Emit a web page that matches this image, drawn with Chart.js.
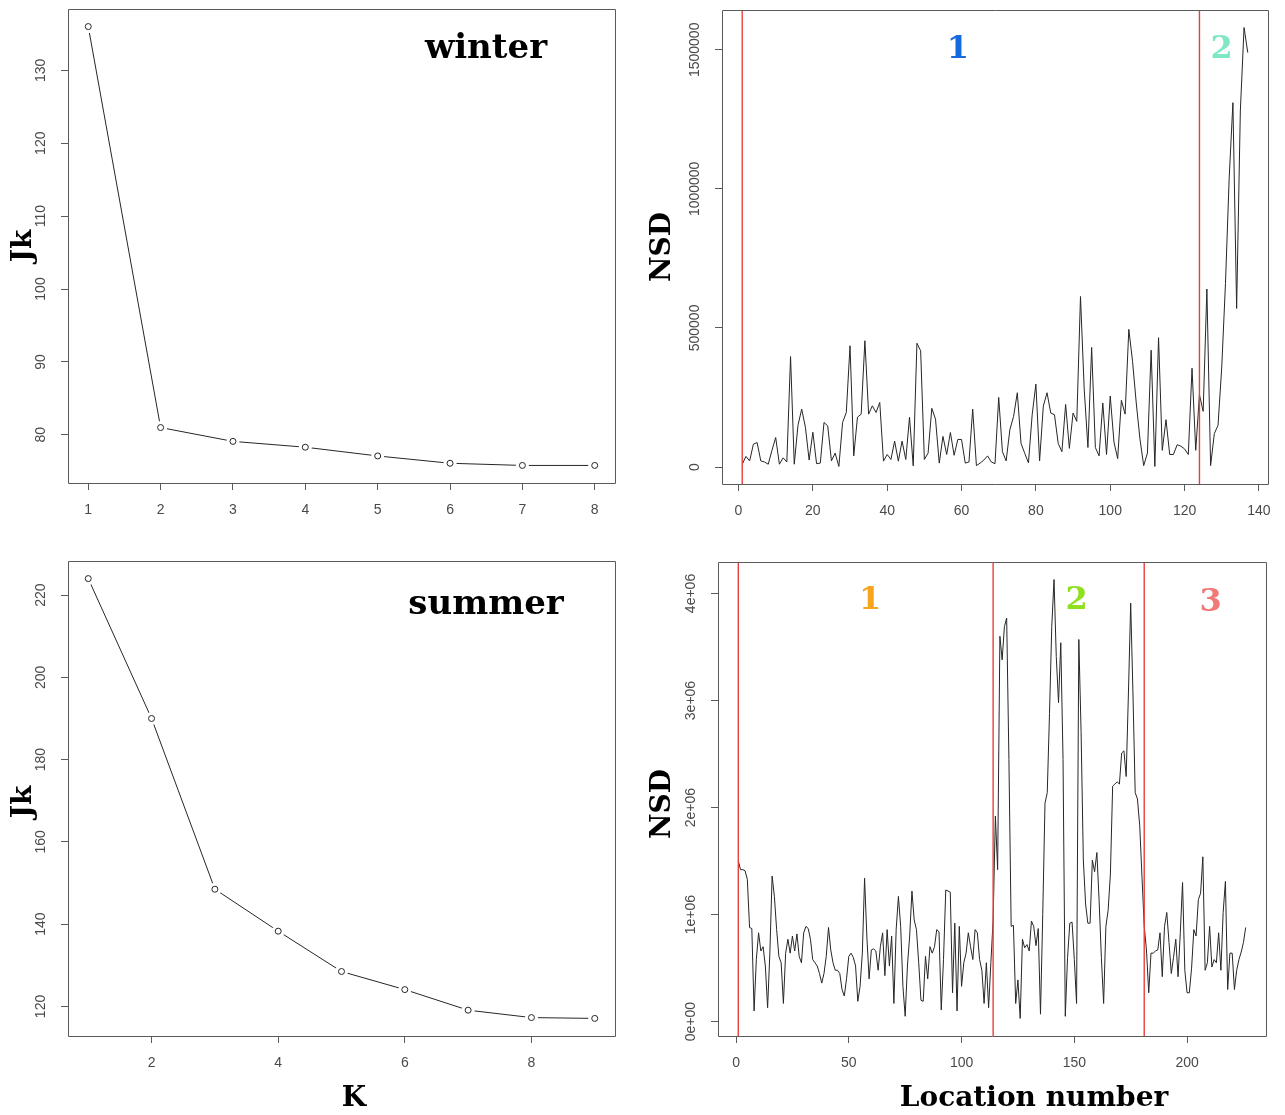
<!DOCTYPE html>
<html>
<head>
<meta charset="utf-8">
<title>Jk and NSD by season</title>
<script src="https://cdn.jsdelivr.net/npm/chart.js@4.4.1/dist/chart.umd.min.js"></script>
<style>
  html, body { margin: 0; padding: 0; background: #fff; }
  #page { position: relative; width: 1285px; height: 1115px; overflow: hidden; }
  #page canvas { position: absolute; }
</style>
</head>
<body>
<div id="page">
  <canvas id="winterJk" width="642" height="550" style="left:0;top:0"></canvas>
  <canvas id="winterNsd" width="643" height="550" style="left:642px;top:0"></canvas>
  <canvas id="summerJk" width="642" height="565" style="left:0;top:550px"></canvas>
  <canvas id="summerNsd" width="643" height="565" style="left:642px;top:550px"></canvas>
</div>
<script>
// --- data ---
const winterK = [1, 2, 3, 4, 5, 6, 7, 8];
const winterJk = [136.0, 81.0, 79.1, 78.3, 77.1, 76.1, 75.8, 75.8];

const summerK = [1, 2, 3, 4, 5, 6, 7, 8, 9];
const summerJk = [224.0, 190.0, 148.5, 138.3, 128.5, 124.1, 119.1, 117.3, 117.1];

// NSD per location, winter (locations 1..137)
const winterNsd = [
  10000, 38000, 22000, 82000, 88000, 22000, 18000, 10000, 60000, 106000,
  10000, 33000, 18000, 397000, 10000, 150000, 208000, 143000, 25000, 125000,
  12000, 14000, 160000, 148000, 22000, 50000, 2000, 160000, 196000, 436000,
  40000, 179000, 190000, 454000, 190000, 220000, 196000, 232000, 21000, 45000,
  27000, 93000, 21000, 93000, 27000, 179000, 4000, 445000, 418000, 27000,
  50000, 211000, 172000, 14000, 110000, 45000, 124000, 42000, 99000, 99000,
  14000, 18000, 208000, 5000, 14000, 25000, 40000, 18000, 12000, 250000,
  55000, 22000, 134000, 182000, 267000, 85000, 49000, 15000, 188000, 298000,
  22000, 219000, 267000, 194000, 188000, 85000, 55000, 225000, 67000, 194000,
  164000, 613000, 280000, 70000, 430000, 70000, 40000, 230000, 45000, 255000,
  90000, 30000, 240000, 190000, 495000, 380000, 230000, 100000, 5000, 50000,
  420000, 2000, 465000, 60000, 170000, 45000, 45000, 80000, 75000, 65000,
  45000, 355000, 60000, 260000, 200000, 640000, 5000, 120000, 150000, 360000,
  660000, 1040000, 1310000, 570000, 1280000, 1580000, 1490000
];

// NSD per location, summer, in units of 1e+06 (locations 1..226)
const summerNsdMillions = [
  1.50, 1.42, 1.42, 1.41, 1.33, 0.88, 0.87, 0.10, 0.58, 0.83,
  0.66, 0.70, 0.52, 0.13, 0.64, 1.36, 1.17, 0.86, 0.61, 0.55,
  0.17, 0.64, 0.77, 0.64, 0.80, 0.66, 0.82, 0.61, 0.55, 0.83,
  0.89, 0.87, 0.77, 0.58, 0.55, 0.52, 0.45, 0.36, 0.45, 0.61,
  0.88, 0.67, 0.55, 0.48, 0.48, 0.45, 0.30, 0.24, 0.40, 0.61,
  0.64, 0.60, 0.52, 0.19, 0.33, 0.64, 1.34, 0.80, 0.40, 0.67,
  0.68, 0.66, 0.48, 0.70, 0.83, 0.43, 0.86, 0.52, 0.80, 0.17,
  0.86, 1.17, 0.89, 0.33, 0.05, 0.52, 0.80, 1.22, 0.95, 0.86,
  0.55, 0.20, 0.19, 0.61, 0.40, 0.70, 0.64, 0.70, 0.86, 0.84,
  0.11, 0.58, 1.23, 1.22, 1.21, 0.27, 0.92, 0.10, 0.89, 0.33,
  0.55, 0.64, 0.83, 0.70, 0.58, 0.86, 0.83, 0.58, 0.48, 0.17,
  0.55, 0.13, 0.55, 0.95, 1.92, 1.42, 3.60, 3.38, 3.69, 3.77,
  2.45, 0.89, 0.90, 0.17, 0.39, 0.03, 0.77, 0.69, 0.72, 0.66,
  0.94, 0.89, 0.71, 0.87, 0.07, 1.00, 2.04, 2.14, 2.88, 3.69,
  4.13, 3.41, 2.98, 3.54, 2.45, 0.05, 0.60, 0.92, 0.93, 0.58,
  0.17, 3.57, 2.71, 1.51, 1.10, 0.92, 0.92, 1.51, 1.40, 1.58,
  1.13, 0.60, 0.17, 0.89, 1.04, 1.38, 2.20, 2.22, 2.24, 2.22,
  2.51, 2.53, 2.29, 3.07, 3.91, 3.07, 2.14, 2.08, 1.83, 1.36,
  0.89, 0.67, 0.27, 0.64, 0.64, 0.66, 0.67, 0.83, 0.42, 0.89,
  1.02, 0.74, 0.45, 0.60, 0.77, 0.42, 0.83, 1.30, 0.48, 0.27,
  0.27, 0.50, 0.86, 0.80, 1.14, 1.20, 1.54, 0.48, 0.55, 0.89,
  0.51, 0.58, 0.55, 0.83, 0.48, 1.02, 1.31, 0.30, 0.64, 0.64,
  0.30, 0.48, 0.58, 0.65, 0.74, 0.88
];

// segment boundaries (location numbers of the red lines)
const winterBreaks = [1, 124];
const summerBreaks = [1, 114, 181];

// segment labels
const winterSegments = ['1', '2'];
const winterSegmentColors = ['#1769e0', '#7ee8c6'];
const summerSegments = ['1', '2', '3'];
const summerSegmentColors = ['#f7a51c', '#8fe01e', '#f07a78'];

// tick labels
const winterKTicks = [1, 2, 3, 4, 5, 6, 7, 8];
const winterJkTicks = [80, 90, 100, 110, 120, 130];
const summerKTicks = [2, 4, 6, 8];
const summerJkTicks = [120, 140, 160, 180, 200, 220];
const winterLocTicks = [0, 20, 40, 60, 80, 100, 120, 140];
const winterNsdTicks = [0, 500000, 1000000, 1500000];
const summerLocTicks = [0, 50, 100, 150, 200];
const summerNsdTicks = [0, 1, 2, 3, 4];

// --- styling ---
const SANS = "'Liberation Sans', Arial, sans-serif";
const SERIF = "'DejaVu Serif', Georgia, serif";
const INK = '#262626';
const FRAME = '#5a5a5a';
const TICK_TEXT = '#4a4a4a';
const BREAK_RED = 'rgb(232, 64, 60)';

// R pads the data range by 4% on each side
function rRange(values) {
    const lo = Math.min(...values);
    const hi = Math.max(...values);
    const pad = (hi - lo) * 0.04;
    return [lo - pad, hi + pad];
}

/**
 * Draws the R-like parts Chart.js has no option for:
 * the full frame, the red break lines, rotated y tick labels and free text.
 */
const rStyle = {
    id: 'rStyle',
    afterDraw(chart, args, opts) {
        const { ctx, chartArea: a, scales: { x, y } } = chart;
        ctx.save();

        ctx.setLineDash([]);
        ctx.globalAlpha = 1;
        ctx.globalCompositeOperation = 'source-over';
        (opts.breaks || []).forEach((b) => {
            const px = x.getPixelForValue(b);
            ctx.strokeStyle = BREAK_RED;
            ctx.lineWidth = 1.4;
            ctx.beginPath();
            ctx.moveTo(px, Math.round(a.top));
            ctx.lineTo(px, Math.round(a.bottom));
            ctx.stroke();
        });

        ctx.strokeStyle = FRAME;
        ctx.lineWidth = 1;
        ctx.beginPath();
        ctx.rect(Math.round(a.left) + 0.5, Math.round(a.top) + 0.5,
            Math.round(a.right - a.left), Math.round(a.bottom - a.top));
        ctx.stroke();

        ctx.fillStyle = TICK_TEXT;
        ctx.font = `14px ${SANS}`;
        ctx.textAlign = 'center';
        ctx.textBaseline = 'middle';
        (opts.yTicks || []).forEach((v) => {
            ctx.save();
            ctx.translate(a.left - 27, y.getPixelForValue(v));
            ctx.rotate(-Math.PI / 2);
            ctx.fillText(opts.yFormat(v), 0, 0);
            ctx.restore();
        });

        (opts.texts || []).forEach((t) => {
            const px = t.atValue ? x.getPixelForValue(t.x) : t.x;
            const py = t.atValue ? y.getPixelForValue(t.y) : t.y;
            ctx.save();
            ctx.fillStyle = t.color || '#000';
            ctx.font = t.font;
            ctx.textAlign = 'center';
            ctx.textBaseline = 'middle';
            ctx.translate(px, py);
            if (t.vertical) {
                ctx.rotate(-Math.PI / 2);
            }
            ctx.fillText(t.text, 0, 0);
            ctx.restore();
        });

        ctx.restore();
    }
};

function makePanel(id, cfg) {
    const canvas = document.getElementById(id);
    const cw = canvas.width;
    const ch = canvas.height;
    const [bl, bt, br, bb] = cfg.box;

    const xr = rRange(cfg.xValues);
    const yr = rRange(cfg.yValues);

    const axisGrid = {
        display: true,
        drawOnChartArea: false,
        drawTicks: true,
        tickLength: 7,
        color: FRAME,
        tickColor: FRAME,
        lineWidth: 1
    };

    return new Chart(canvas.getContext('2d'), {
        type: 'line',
        data: { datasets: cfg.datasets },
        options: {
            responsive: false,
            animation: false,
            devicePixelRatio: 1,
            events: [],
            layout: { padding: { top: bt, right: cw - br, left: 0, bottom: 0 } },
            plugins: {
                legend: { display: false },
                tooltip: { enabled: false },
                rStyle: {
                    breaks: cfg.breaks,
                    yTicks: cfg.yTicks,
                    yFormat: cfg.yFormat,
                    texts: cfg.texts
                }
            },
            scales: {
                x: {
                    type: 'linear',
                    min: xr[0],
                    max: xr[1],
                    afterBuildTicks: (s) => { s.ticks = cfg.xTicks.map((v) => ({ value: v })); },
                    afterFit: (s) => { s.height = ch - bb; },
                    grid: axisGrid,
                    border: { display: false },
                    ticks: {
                        autoSkip: false,
                        maxRotation: 0,
                        padding: 12,
                        color: TICK_TEXT,
                        font: { family: SANS, size: 14 },
                        callback: (v) => String(v)
                    }
                },
                y: {
                    type: 'linear',
                    min: yr[0],
                    max: yr[1],
                    afterBuildTicks: (s) => { s.ticks = cfg.yTicks.map((v) => ({ value: v })); },
                    afterFit: (s) => { s.width = bl; },
                    grid: axisGrid,
                    border: { display: false },
                    ticks: { display: false }
                }
            }
        },
        plugins: [rStyle]
    });
}

// elbow plot: open circles with a white gap round them, like R type = "b"
function elbowDatasets(ks, jk) {
    const pts = ks.map((k, i) => ({ x: k, y: jk[i] }));
    return [
        { data: pts, showLine: false, pointRadius: 3, pointBorderWidth: 1,
          pointBorderColor: INK, pointBackgroundColor: '#fff' },
        { data: pts, showLine: false, pointRadius: 6.5, pointBorderWidth: 0,
          pointBackgroundColor: '#fff' },
        { data: pts, borderColor: INK, borderWidth: 1, pointRadius: 0, tension: 0 }
    ];
}

function nsdDataset(values) {
    return [{
        data: values.map((v, i) => ({ x: i + 1, y: v })),
        borderColor: INK,
        borderWidth: 1,
        pointRadius: 0,
        tension: 0
    }];
}

const axisTitleFont = `bold 28px ${SERIF}`;
const seasonFont = `bold 34px ${SERIF}`;
const segmentFont = `bold 32px ${SERIF}`;

makePanel('winterJk', {
    box: [68, 9, 615, 483],
    xValues: winterK,
    yValues: winterJk,
    xTicks: winterKTicks,
    yTicks: winterJkTicks,
    yFormat: (v) => String(v),
    datasets: elbowDatasets(winterK, winterJk),
    texts: [
        { text: 'winter', x: 486, y: 49, font: seasonFont },
        { text: 'Jk', x: 24, y: 246, font: axisTitleFont, vertical: true }
    ]
});

makePanel('winterNsd', {
    box: [80, 10, 626, 484],
    xValues: winterNsd.map((v, i) => i + 1),
    yValues: winterNsd,
    xTicks: winterLocTicks,
    yTicks: winterNsdTicks,
    yFormat: (v) => String(v),
    breaks: winterBreaks,
    datasets: nsdDataset(winterNsd),
    texts: [
        { text: 'NSD', x: 21, y: 247, font: axisTitleFont, vertical: true },
        { text: winterSegments[0], x: 59, y: 1500000, atValue: true, font: segmentFont, color: winterSegmentColors[0] },
        { text: winterSegments[1], x: 130, y: 1500000, atValue: true, font: segmentFont, color: winterSegmentColors[1] }
    ]
});

makePanel('summerJk', {
    box: [68, 11, 615, 486],
    xValues: summerK,
    yValues: summerJk,
    xTicks: summerKTicks,
    yTicks: summerJkTicks,
    yFormat: (v) => String(v),
    datasets: elbowDatasets(summerK, summerJk),
    texts: [
        { text: 'summer', x: 486, y: 55, font: seasonFont },
        { text: 'Jk', x: 24, y: 252, font: axisTitleFont, vertical: true },
        { text: 'K', x: 354, y: 549, font: axisTitleFont }
    ]
});

makePanel('summerNsd', {
    box: [76, 12, 624, 486],
    xValues: summerNsdMillions.map((v, i) => i + 1),
    yValues: summerNsdMillions,
    xTicks: summerLocTicks,
    yTicks: summerNsdTicks,
    yFormat: (v) => (v === 0 ? '0e+00' : `${v}e+06`),
    breaks: summerBreaks,
    datasets: nsdDataset(summerNsdMillions),
    texts: [
        { text: 'NSD', x: 21, y: 254, font: axisTitleFont, vertical: true },
        { text: 'Location number', x: 392, y: 549, font: axisTitleFont },
        { text: summerSegments[0], x: 59.5, y: 3.93, atValue: true, font: segmentFont, color: summerSegmentColors[0] },
        { text: summerSegments[1], x: 151, y: 3.93, atValue: true, font: segmentFont, color: summerSegmentColors[1] },
        { text: summerSegments[2], x: 210.5, y: 3.91, atValue: true, font: segmentFont, color: summerSegmentColors[2] }
    ]
});
</script>
</body>
</html>
